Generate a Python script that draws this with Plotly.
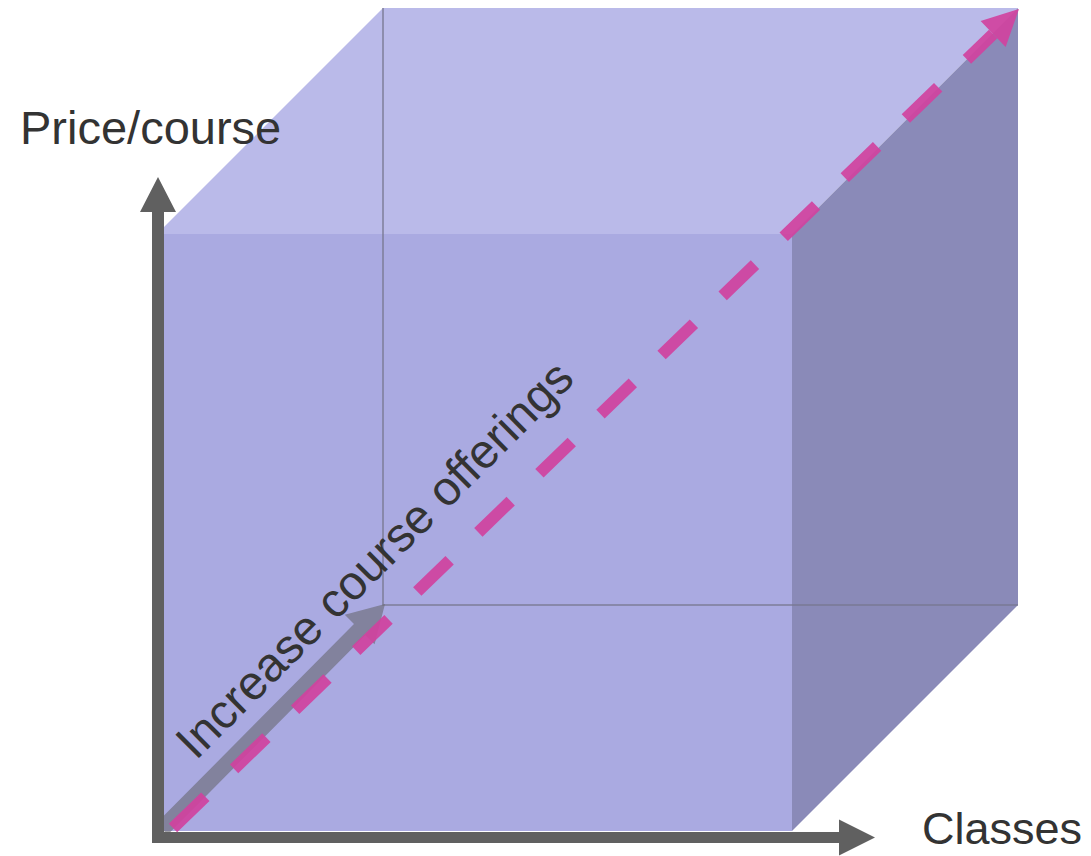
import numpy as np
import plotly.graph_objects as go

W, H = 1091, 856

# Cube drawn in oblique projection (page pixels, y grows downward)
front_x = [157, 792]          # left / right edge of the front face
front_y = [234, 831]          # top / bottom edge of the front face
depth = 226                   # oblique offset of the back face

# Axis arrows: start point, tip
price_axis = [(158, 843), (158, 177)]
classes_axis = [(152, 837.5), (875, 837.5)]
# Depth arrow along the hidden edge, and the growth path through the cube
depth_arrow = [(162, 829), (385, 604)]
growth_path = [(173, 828), (1019, 9)]

labels = ["Price/course", "Classes", "Increase course offerings"]

FRONT = "rgb(170,170,225)"
TOP = "rgb(186,186,233)"
SIDE = "rgb(138,138,184)"
AXIS = "rgb(96,96,96)"
PINK = "rgba(208,66,158,0.92)"
TEXT = "rgb(51,51,51)"

fig = go.Figure()


def poly(xs, ys, color):
    fig.add_trace(go.Scatter(
        x=list(xs) + [xs[0]], y=list(ys) + [ys[0]], mode="lines",
        fill="toself", fillcolor=color, line=dict(width=0, color=color),
        hoverinfo="skip", showlegend=False))


def arrow_shape(p0, p1, shaft_w, head_w, head_l):
    p0, p1 = np.array(p0, float), np.array(p1, float)
    d = (p1 - p0) / np.linalg.norm(p1 - p0)
    n = np.array([-d[1], d[0]])
    b = p1 - d * head_l
    pts = [p0 + n * shaft_w / 2, b + n * shaft_w / 2, b + n * head_w / 2, p1,
           b - n * head_w / 2, b - n * shaft_w / 2, p0 - n * shaft_w / 2]
    return [p[0] for p in pts], [p[1] for p in pts]


L, R = front_x
T, B = front_y
# faces
poly([L, L + depth, R + depth, R], [T, T - depth, T - depth, T], TOP)
poly([R, R + depth, R + depth, R], [T, T - depth, B - depth, B], SIDE)
poly([L, R, R, L], [T, T, B, B], FRONT)

# hidden back edges
fig.add_trace(go.Scatter(
    x=[L + depth, L + depth, R + depth], y=[T - depth, B - depth, B - depth],
    mode="lines", line=dict(color="rgba(120,120,145,0.9)", width=1.5),
    hoverinfo="skip", showlegend=False))

# depth arrow (semi-transparent gray)
xs, ys = arrow_shape(*depth_arrow, 16, 42, 36)
poly(xs, ys, "rgba(105,105,115,0.62)")

# axes
xs, ys = arrow_shape(*price_axis, 12, 36, 35)
poly(xs, ys, AXIS)
xs, ys = arrow_shape(*classes_axis, 11, 36, 36)
poly(xs, ys, AXIS)

# growth path: dashed line ending in an arrowhead
g0, g1 = np.array(growth_path[0], float), np.array(growth_path[1], float)
gd = (g1 - g0) / np.linalg.norm(g1 - g0)
gb = g1 - gd * 36
fig.add_trace(go.Scatter(
    x=[g0[0], gb[0]], y=[g0[1], gb[1]], mode="lines",
    line=dict(color=PINK, width=12, dash="45px,40px"),
    hoverinfo="skip", showlegend=False))
xs, ys = arrow_shape(gb - gd * 1, g1, 0.1, 36, 36)
poly(xs, ys, PINK)

font = dict(family="Liberation Sans, Arial, sans-serif", size=47, color=TEXT)
fig.add_annotation(x=150, y=127, text=labels[0], showarrow=False, font=font,
                   xanchor="center", yanchor="middle")
fig.add_annotation(x=1002, y=828, text=labels[1], showarrow=False,
                   font=dict(font, size=45),
                   xanchor="center", yanchor="middle")
fig.add_annotation(x=374, y=559, text=labels[2], showarrow=False,
                   font=dict(font, size=48),
                   textangle=-45, xanchor="center", yanchor="middle")

fig.update_layout(
    width=W, height=H, margin=dict(l=0, r=0, t=0, b=0),
    paper_bgcolor="white", plot_bgcolor="white",
    xaxis=dict(range=[0, W], visible=False, fixedrange=True),
    yaxis=dict(range=[H, 0], visible=False, fixedrange=True),
    showlegend=False,
)

fig.write_html("out.html")
